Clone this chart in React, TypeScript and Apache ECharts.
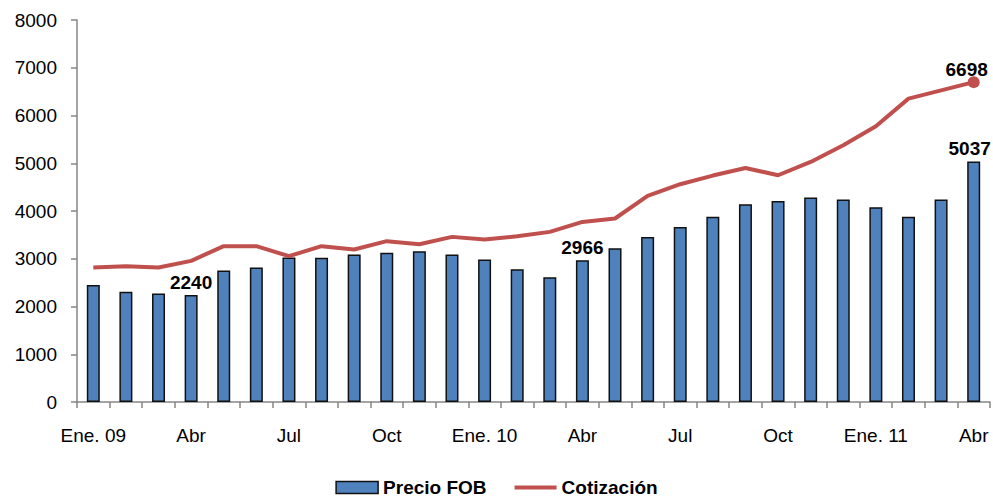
import React, { useEffect, useRef } from "react";
import * as echarts from "echarts";

const categories = [
  "Ene. 09", "Feb", "Mar", "Abr", "May", "Jun", "Jul", "Ago", "Sep", "Oct", "Nov", "Dic",
  "Ene. 10", "Feb", "Mar", "Abr", "May", "Jun", "Jul", "Ago", "Sep", "Oct", "Nov", "Dic",
  "Ene. 11", "Feb", "Mar", "Abr",
];
const precioFOB = [
  2448, 2308, 2274, 2240, 2755, 2817, 3027, 3020, 3090, 3124, 3159, 3090,
  2985, 2782, 2615, 2966, 3222, 3458, 3667, 3877, 4142, 4212, 4282, 4240,
  4079, 3877, 4240, 5037,
];
const cotizacion = [
  2817, 2845, 2817, 2956, 3264, 3264, 3054, 3264, 3194, 3368, 3305, 3458,
  3403, 3472, 3563, 3772, 3843, 4317, 4561, 4742, 4902, 4749, 5028, 5377,
  5774, 6353, 6527, 6698,
];
const barLabelIdx = [3, 15, 27];
const lineLabelIdx = [27];

const FONT = "'Liberation Sans', Arial, sans-serif";
const BLUE = "#4F81BD";
const RED = "#C0504D";
const FS = 19;

export default function App() {
  const ref = useRef<HTMLDivElement>(null);
  useEffect(() => {
    if (!ref.current) return;
    const chart = echarts.init(ref.current, undefined, { renderer: "svg" });
    const labelStyle = {
      show: true,
      position: "top",
      fontFamily: FONT,
      fontSize: FS,
      fontWeight: "bold",
      color: "#000",
      distance: 3,
    };
    const lastIdx = precioFOB.length - 1;
    chart.setOption({
      animation: false,
      textStyle: { fontFamily: FONT },
      grid: { left: 77, right: 3, top: 20, bottom: 95, containLabel: false },
      legend: {
        bottom: 0,
        left: "center",
        padding: [0, 5],
        itemGap: 28,
        itemWidth: 42,
        itemHeight: 12,
        textStyle: { fontFamily: FONT, fontSize: FS, fontWeight: "bold", color: "#000" },
        data: [
          { name: "Precio FOB", icon: "rect", itemStyle: { borderColor: "#111", borderWidth: 1.5 } },
          { name: "Cotización", icon: "path://M0,4H42V8H0Z" },
        ],
      },
      xAxis: {
        type: "category",
        data: categories,
        boundaryGap: true,
        axisLine: { lineStyle: { color: "#868686", width: 1.5 } },
        axisTick: { show: true, interval: 0, length: 6, lineStyle: { color: "#868686", width: 1.5 } },
        axisLabel: {
          interval: 2,
          color: "#000",
          fontFamily: FONT,
          fontSize: FS,
          margin: 24,
        },
      },
      yAxis: {
        type: "value",
        min: 0,
        max: 8000,
        interval: 1000,
        splitLine: { show: false },
        axisLine: { show: true, lineStyle: { color: "#868686", width: 1.5 } },
        axisTick: { show: true, length: 6, lineStyle: { color: "#868686", width: 1.5 } },
        axisLabel: {
          color: "#000",
          fontFamily: FONT,
          fontSize: FS,
          margin: 20,
          formatter: (v: number) => String(v),
        },
      },
      series: [
        {
          name: "Precio FOB",
          type: "bar",
          barWidth: 13,
          itemStyle: { color: BLUE, borderColor: "#111", borderWidth: 1.5 },
          data: precioFOB.map((v, i) =>
            barLabelIdx.includes(i)
              ? { value: v, label: i === lastIdx ? { ...labelStyle, offset: [-4, 0] } : labelStyle }
              : v
          ),
        },
        {
          name: "Cotización",
          type: "line",
          symbol: "none",
          showSymbol: true,
          lineStyle: { color: RED, width: 4 },
          itemStyle: { color: RED },
          data: cotizacion.map((v, i) =>
            lineLabelIdx.includes(i)
              ? { value: v, symbol: "circle", symbolSize: 12, label: { ...labelStyle, offset: [-7, 6] } }
              : v
          ),
        },
      ],
    });
    return () => chart.dispose();
  }, []);
  return (
    <div
      ref={ref}
      style={{ position: "absolute", left: 0, top: 0, width: 993, height: 497 }}
    />
  );
}
